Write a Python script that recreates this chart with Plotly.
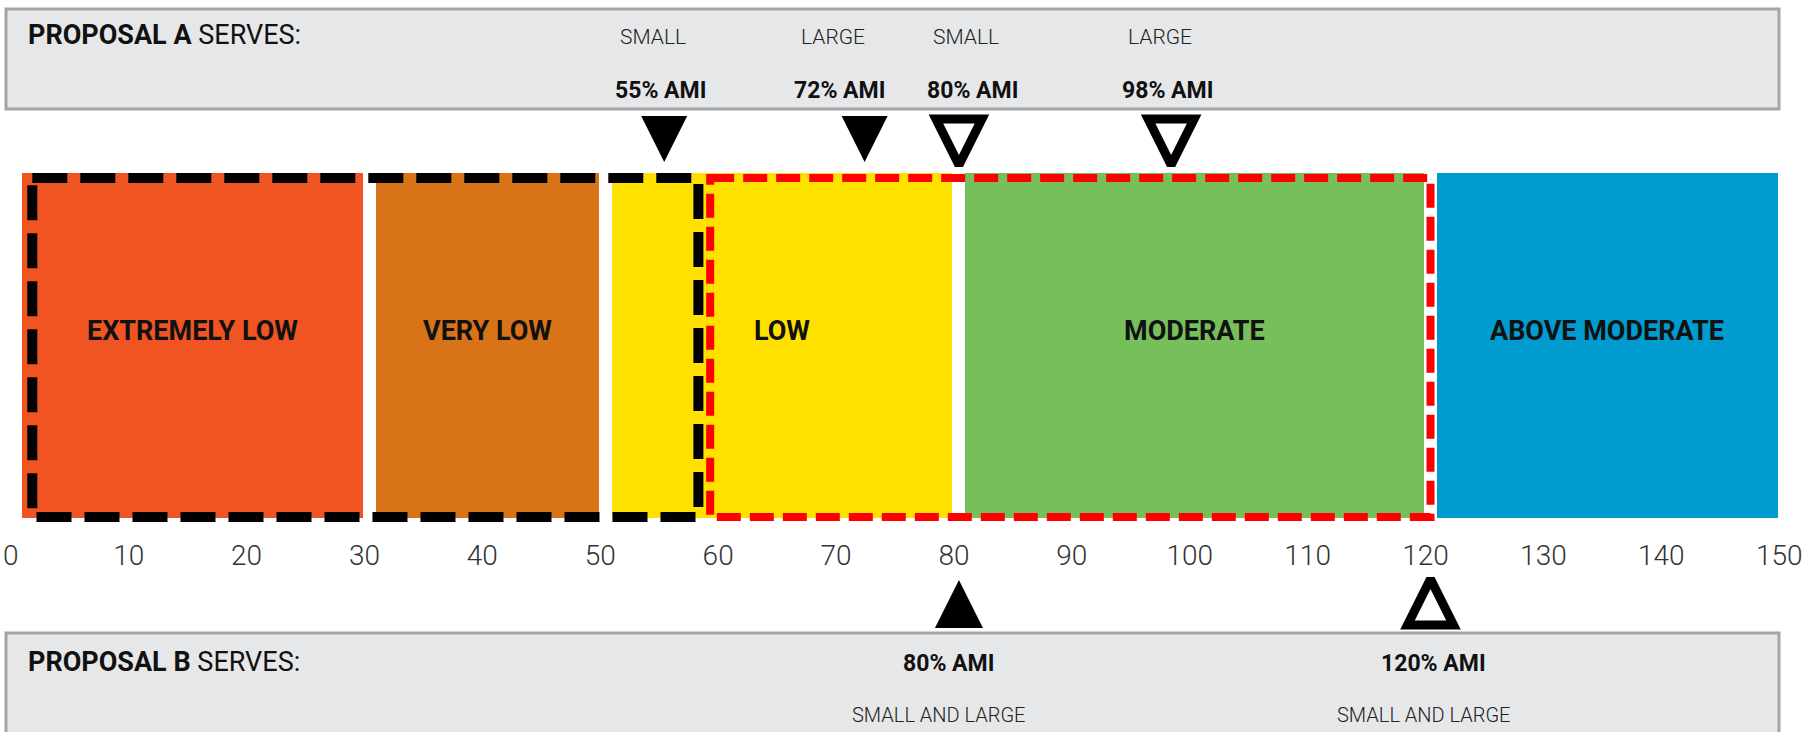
import plotly.graph_objects as go

# Income bands (% of area median income)
band_names = ["EXTREMELY LOW", "VERY LOW", "LOW", "MODERATE", "ABOVE MODERATE"]
band_lo = [0, 30, 50, 80, 120]
band_hi = [30, 50, 80, 120, 150]
band_colors = ["#F05423", "#D97317", "#FFE100", "#76BF5A", "#009BCF"]

# Proposal A income limits
a_ami = [55, 72, 80, 98]
a_size = ["SMALL", "LARGE", "SMALL", "LARGE"]
a_filled = [True, True, False, False]
a_span = [0, 60]

# Proposal B income limits
b_ami = [80, 120]
b_size = ["SMALL AND LARGE", "SMALL AND LARGE"]
b_filled = [True, False]
b_span = [60, 120]

tick_values = list(range(0, 151, 10))

W, H = 1810, 732
FONT = "Roboto, Liberation Sans, sans-serif"
INK = "#111111"

fig = go.Figure()

# Coloured bands, with a thin white gap between neighbours
gap = 0.55
fig.add_trace(go.Bar(
    orientation="h",
    y=[345.5] * len(band_lo),
    base=[lo + gap for lo in band_lo],
    x=[hi - lo - 2 * gap for lo, hi in zip(band_lo, band_hi)],
    width=345,
    marker=dict(color=band_colors, line=dict(width=0)),
    hoverinfo="skip",
    showlegend=False,
))

for name, lo, hi in zip(band_names, band_lo, band_hi):
    fig.add_annotation(x=(lo + hi) / 2, y=331, xref="x", yref="y", text=f"<b>{name}</b>",
                       showarrow=False, font=dict(family=FONT, size=27, color=INK),
                       xanchor="center", yanchor="middle")


def arrow_symbols(filled, direction):
    base = "arrow-" + direction
    return [base if f else base + "-open" for f in filled]


def add_markers(xs, tip_y_filled, tip_y_open, size_filled, size_open, filled, direction):
    # arrow symbols are anchored at their tip
    fig.add_trace(go.Scatter(
        x=xs, y=[tip_y_filled if f else tip_y_open for f in filled], mode="markers",
        marker=dict(symbol=arrow_symbols(filled, direction),
                    size=[size_filled if f else size_open for f in filled],
                    color="black", opacity=1,
                    line=dict(color="black", width=[0 if f else 9 for f in filled])),
        hoverinfo="skip", showlegend=False, cliponaxis=False,
    ))


add_markers(a_ami, 162, 165, 46, 46, a_filled, "down")   # Proposal A, pointing down at the bar
add_markers(b_ami, 580, 579, 48, 46, b_filled, "up")     # Proposal B, pointing up at the axis

# Grey caption panels
for y0, y1 in [(9, 109), (633, 760)]:
    fig.add_shape(type="rect", xref="paper", yref="y",
                  x0=6 / W, x1=1779 / W, y0=y0, y1=y1,
                  fillcolor="#E6E7E9", line=dict(color="#A3A5A8", width=3), layer="below")

for label, yy in [("A", 35), ("B", 662)]:
    fig.add_annotation(x=26 / W, y=yy, xref="paper", yref="y",
                       text=f"<b>PROPOSAL {label}</b> SERVES:", showarrow=False,
                       font=dict(family=FONT, size=27, color=INK), xanchor="left", yanchor="middle")

a_dx = [-4, -25, 14, -4]
for v, s, dx in zip(a_ami, a_size, a_dx):
    fig.add_annotation(x=v, y=37, xref="x", yref="y", text=s, showarrow=False, xshift=dx - 7,
                       font=dict(family=FONT, size=21, color="#222222", weight=300),
                       xanchor="center", yanchor="middle")
    fig.add_annotation(x=v, y=90, xref="x", yref="y", text=f"<b>{v}% AMI</b>", showarrow=False,
                       xshift=dx, font=dict(family=FONT, size=23, color=INK),
                       xanchor="center", yanchor="middle")

b_dx = [-10, 3]
for v, s, dx in zip(b_ami, b_size, b_dx):
    fig.add_annotation(x=v, y=663, xref="x", yref="y", text=f"<b>{v}% AMI</b>", showarrow=False,
                       xshift=dx, font=dict(family=FONT, size=23, color=INK),
                       xanchor="center", yanchor="middle")
    fig.add_annotation(x=v, y=715, xref="x", yref="y", text=s, showarrow=False, xshift=dx - 10,
                       font=dict(family=FONT, size=20, color="#222222", weight=300),
                       xanchor="center", yanchor="middle")

# Dashed outlines of the income ranges each proposal covers
fig.add_shape(type="rect", xref="x", yref="y", x0=b_span[0] - 1.1, x1=b_span[1], y0=178, y1=517,
              line=dict(color="#FF0000", width=8, dash="24px,9px"), fillcolor="rgba(0,0,0,0)",
              layer="above")
fig.add_shape(type="rect", xref="x", yref="y", x0=a_span[0] + 1.4, x1=a_span[1] - 2.1, y0=178, y1=517,
              line=dict(color="black", width=10, dash="35px,13px"), fillcolor="rgba(0,0,0,0)",
              layer="above")

fig.update_layout(
    width=W, height=H,
    margin=dict(l=0, r=0, t=0, b=0),
    paper_bgcolor="white", plot_bgcolor="white",
    bargap=0,
    xaxis=dict(range=[-1.340, 152.19], tickvals=tick_values, ticks="", showgrid=False,
               zeroline=False, showline=False, anchor="free", position=1 - 536 / H,
               ticklabelshift=-5,
               tickfont=dict(family=FONT, size=28, color="#333333", weight=300), fixedrange=True),
    yaxis=dict(range=[H, 0], visible=False, fixedrange=True),
    showlegend=False,
)

fig.write_html("out.html")
